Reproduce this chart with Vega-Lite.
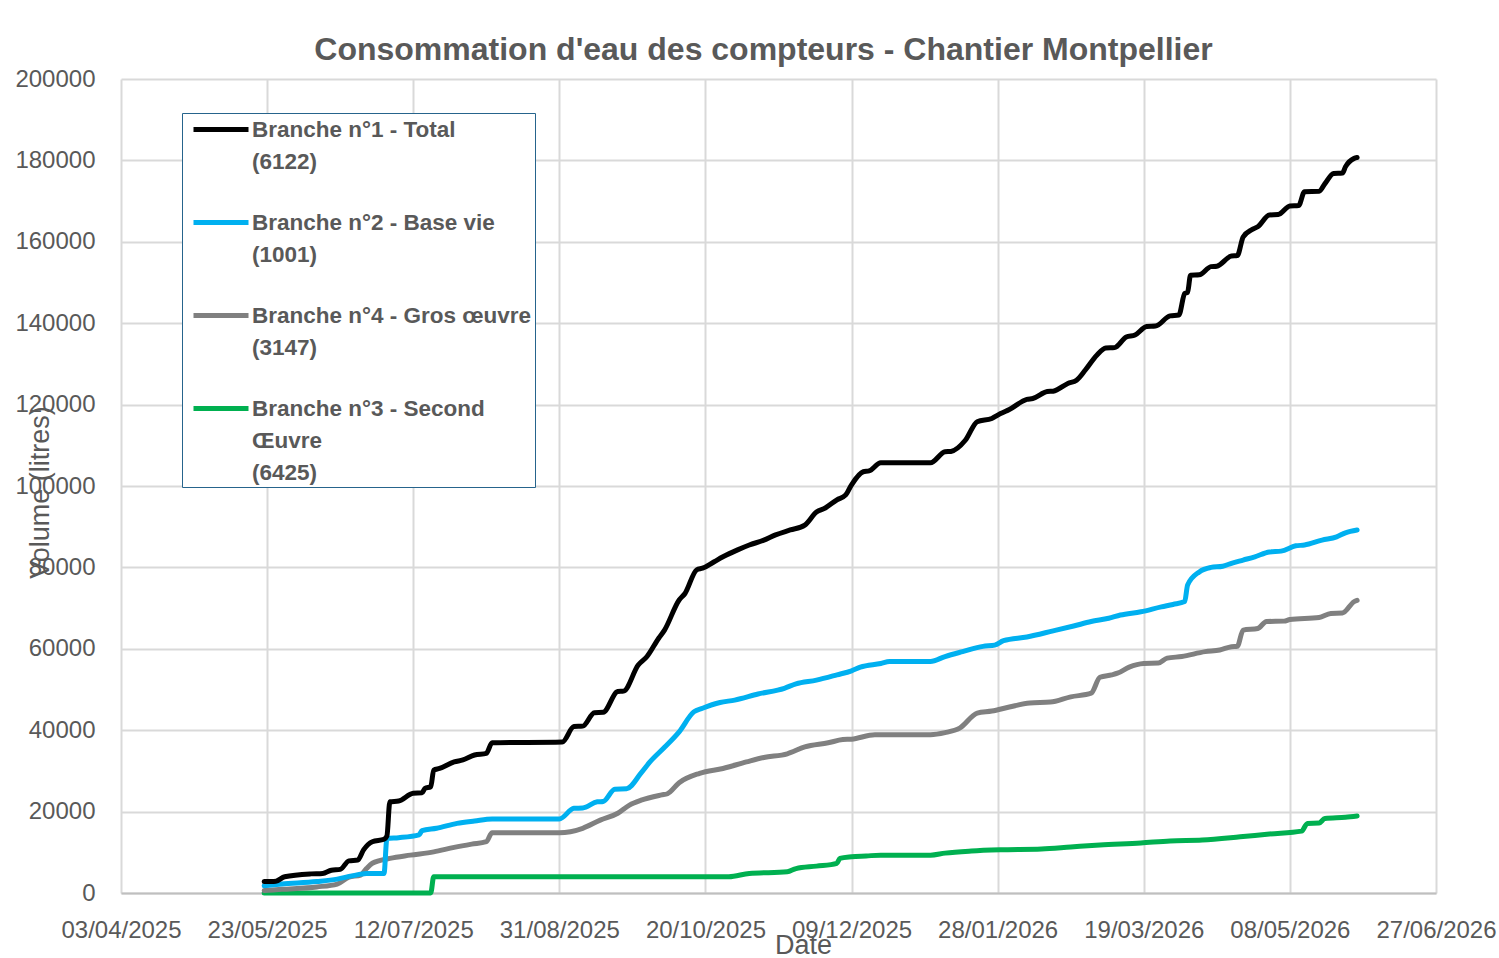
{
  "$schema": "https://vega.github.io/schema/vega-lite/v6.json",
  "width": 1315,
  "height": 814,
  "autosize": {"type": "none"},
  "padding": {"left": 121, "top": 79, "right": 63, "bottom": 65},
  "background": "#ffffff",
  "title": {
    "text": "Consommation d'eau des compteurs - Chantier Montpellier",
    "font": "Liberation Sans",
    "fontSize": 32,
    "fontWeight": "bold",
    "color": "#595959",
    "anchor": "middle",
    "frame": "group",
    "dx": -15,
    "baseline": "alphabetic",
    "offset": -25
  },
  "config": {
    "font": "Liberation Sans",
    "view": {"stroke": null},
    "style": {"guide-label": {"lineHeight": 32}}
  },
  "data": {
    "values": [
      {"s":"b3","d":"2025-05-22","v":0},
      {"s":"b3","d":"2025-07-18","v":0},
      {"s":"b3","d":"2025-07-19","v":4000},
      {"s":"b3","d":"2025-10-28","v":4000},
      {"s":"b3","d":"2025-11-04","v":4800},
      {"s":"b3","d":"2025-11-17","v":5200},
      {"s":"b3","d":"2025-11-20","v":6000},
      {"s":"b3","d":"2025-11-27","v":6600},
      {"s":"b3","d":"2025-12-04","v":7300},
      {"s":"b3","d":"2025-12-05","v":8500},
      {"s":"b3","d":"2025-12-09","v":8900},
      {"s":"b3","d":"2025-12-14","v":9100},
      {"s":"b3","d":"2025-12-19","v":9300},
      {"s":"b3","d":"2026-01-05","v":9300},
      {"s":"b3","d":"2026-01-10","v":9800},
      {"s":"b3","d":"2026-01-19","v":10300},
      {"s":"b3","d":"2026-01-29","v":10600},
      {"s":"b3","d":"2026-02-12","v":10800},
      {"s":"b3","d":"2026-02-22","v":11300},
      {"s":"b3","d":"2026-03-04","v":11800},
      {"s":"b3","d":"2026-03-18","v":12300},
      {"s":"b3","d":"2026-03-28","v":12800},
      {"s":"b3","d":"2026-04-08","v":13000},
      {"s":"b3","d":"2026-04-21","v":13800},
      {"s":"b3","d":"2026-05-01","v":14500},
      {"s":"b3","d":"2026-05-12","v":15200},
      {"s":"b3","d":"2026-05-14","v":17100},
      {"s":"b3","d":"2026-05-18","v":17200},
      {"s":"b3","d":"2026-05-20","v":18300},
      {"s":"b3","d":"2026-05-27","v":18600},
      {"s":"b3","d":"2026-05-31","v":18900},

      {"s":"b4","d":"2025-05-22","v":600},
      {"s":"b4","d":"2025-05-28","v":900},
      {"s":"b4","d":"2025-06-09","v":1500},
      {"s":"b4","d":"2025-06-16","v":2200},
      {"s":"b4","d":"2025-06-20","v":3900},
      {"s":"b4","d":"2025-06-24","v":4400},
      {"s":"b4","d":"2025-06-26","v":6000},
      {"s":"b4","d":"2025-06-28","v":7300},
      {"s":"b4","d":"2025-07-04","v":8500},
      {"s":"b4","d":"2025-07-11","v":9300},
      {"s":"b4","d":"2025-07-19","v":10100},
      {"s":"b4","d":"2025-07-26","v":11200},
      {"s":"b4","d":"2025-08-01","v":12000},
      {"s":"b4","d":"2025-08-06","v":12600},
      {"s":"b4","d":"2025-08-08","v":14800},
      {"s":"b4","d":"2025-08-31","v":14800},
      {"s":"b4","d":"2025-09-08","v":15900},
      {"s":"b4","d":"2025-09-14","v":17900},
      {"s":"b4","d":"2025-09-20","v":19600},
      {"s":"b4","d":"2025-09-24","v":21600},
      {"s":"b4","d":"2025-09-28","v":22800},
      {"s":"b4","d":"2025-10-05","v":24100},
      {"s":"b4","d":"2025-10-07","v":24400},
      {"s":"b4","d":"2025-10-11","v":27100},
      {"s":"b4","d":"2025-10-18","v":29400},
      {"s":"b4","d":"2025-10-26","v":30600},
      {"s":"b4","d":"2025-11-03","v":32200},
      {"s":"b4","d":"2025-11-09","v":33300},
      {"s":"b4","d":"2025-11-17","v":34200},
      {"s":"b4","d":"2025-11-23","v":35900},
      {"s":"b4","d":"2025-12-01","v":36900},
      {"s":"b4","d":"2025-12-06","v":37700},
      {"s":"b4","d":"2025-12-09","v":37800},
      {"s":"b4","d":"2025-12-17","v":38900},
      {"s":"b4","d":"2026-01-05","v":38900},
      {"s":"b4","d":"2026-01-10","v":39400},
      {"s":"b4","d":"2026-01-15","v":40500},
      {"s":"b4","d":"2026-01-21","v":44200},
      {"s":"b4","d":"2026-01-26","v":44700},
      {"s":"b4","d":"2026-02-01","v":45700},
      {"s":"b4","d":"2026-02-08","v":46700},
      {"s":"b4","d":"2026-02-15","v":46900},
      {"s":"b4","d":"2026-02-22","v":48200},
      {"s":"b4","d":"2026-03-01","v":49100},
      {"s":"b4","d":"2026-03-04","v":53000},
      {"s":"b4","d":"2026-03-08","v":53600},
      {"s":"b4","d":"2026-03-10","v":54000},
      {"s":"b4","d":"2026-03-14","v":55500},
      {"s":"b4","d":"2026-03-19","v":56400},
      {"s":"b4","d":"2026-03-24","v":56500},
      {"s":"b4","d":"2026-03-27","v":57700},
      {"s":"b4","d":"2026-04-01","v":58100},
      {"s":"b4","d":"2026-04-09","v":59300},
      {"s":"b4","d":"2026-04-14","v":59700},
      {"s":"b4","d":"2026-04-18","v":60500},
      {"s":"b4","d":"2026-04-20","v":60600},
      {"s":"b4","d":"2026-04-22","v":64600},
      {"s":"b4","d":"2026-04-27","v":65000},
      {"s":"b4","d":"2026-04-30","v":66700},
      {"s":"b4","d":"2026-05-06","v":66800},
      {"s":"b4","d":"2026-05-08","v":67200},
      {"s":"b4","d":"2026-05-18","v":67700},
      {"s":"b4","d":"2026-05-22","v":68700},
      {"s":"b4","d":"2026-05-26","v":68800},
      {"s":"b4","d":"2026-05-30","v":71600},
      {"s":"b4","d":"2026-05-31","v":71900},

      {"s":"b2","d":"2025-05-22","v":1800},
      {"s":"b2","d":"2025-05-28","v":2200},
      {"s":"b2","d":"2025-06-09","v":2800},
      {"s":"b2","d":"2025-06-16","v":3400},
      {"s":"b2","d":"2025-06-21","v":4200},
      {"s":"b2","d":"2025-06-26","v":4800},
      {"s":"b2","d":"2025-07-02","v":4800},
      {"s":"b2","d":"2025-07-03","v":13400},
      {"s":"b2","d":"2025-07-07","v":13600},
      {"s":"b2","d":"2025-07-14","v":14300},
      {"s":"b2","d":"2025-07-15","v":15300},
      {"s":"b2","d":"2025-07-20","v":15900},
      {"s":"b2","d":"2025-07-27","v":17100},
      {"s":"b2","d":"2025-08-02","v":17700},
      {"s":"b2","d":"2025-08-08","v":18200},
      {"s":"b2","d":"2025-08-31","v":18200},
      {"s":"b2","d":"2025-09-05","v":20800},
      {"s":"b2","d":"2025-09-08","v":20900},
      {"s":"b2","d":"2025-09-13","v":22400},
      {"s":"b2","d":"2025-09-15","v":22500},
      {"s":"b2","d":"2025-09-19","v":25500},
      {"s":"b2","d":"2025-09-23","v":25600},
      {"s":"b2","d":"2025-09-28","v":29500},
      {"s":"b2","d":"2025-10-01","v":32200},
      {"s":"b2","d":"2025-10-06","v":35800},
      {"s":"b2","d":"2025-10-11","v":39600},
      {"s":"b2","d":"2025-10-16","v":44500},
      {"s":"b2","d":"2025-10-19","v":45400},
      {"s":"b2","d":"2025-10-25","v":46800},
      {"s":"b2","d":"2025-10-30","v":47400},
      {"s":"b2","d":"2025-11-07","v":48900},
      {"s":"b2","d":"2025-11-16","v":50300},
      {"s":"b2","d":"2025-11-20","v":51400},
      {"s":"b2","d":"2025-11-27","v":52300},
      {"s":"b2","d":"2025-12-04","v":53600},
      {"s":"b2","d":"2025-12-09","v":54600},
      {"s":"b2","d":"2025-12-12","v":55500},
      {"s":"b2","d":"2025-12-19","v":56400},
      {"s":"b2","d":"2025-12-22","v":56900},
      {"s":"b2","d":"2026-01-05","v":56900},
      {"s":"b2","d":"2026-01-10","v":58100},
      {"s":"b2","d":"2026-01-16","v":59300},
      {"s":"b2","d":"2026-01-23","v":60600},
      {"s":"b2","d":"2026-01-27","v":60900},
      {"s":"b2","d":"2026-01-30","v":62000},
      {"s":"b2","d":"2026-02-07","v":62900},
      {"s":"b2","d":"2026-02-16","v":64400},
      {"s":"b2","d":"2026-02-23","v":65600},
      {"s":"b2","d":"2026-03-01","v":66700},
      {"s":"b2","d":"2026-03-07","v":67500},
      {"s":"b2","d":"2026-03-11","v":68300},
      {"s":"b2","d":"2026-03-18","v":69100},
      {"s":"b2","d":"2026-03-25","v":70300},
      {"s":"b2","d":"2026-03-29","v":70900},
      {"s":"b2","d":"2026-04-02","v":71600},
      {"s":"b2","d":"2026-04-03","v":75700},
      {"s":"b2","d":"2026-04-07","v":78900},
      {"s":"b2","d":"2026-04-11","v":80000},
      {"s":"b2","d":"2026-04-15","v":80300},
      {"s":"b2","d":"2026-04-18","v":81000},
      {"s":"b2","d":"2026-04-22","v":81800},
      {"s":"b2","d":"2026-04-26","v":82600},
      {"s":"b2","d":"2026-05-01","v":83800},
      {"s":"b2","d":"2026-05-05","v":84000},
      {"s":"b2","d":"2026-05-10","v":85300},
      {"s":"b2","d":"2026-05-13","v":85500},
      {"s":"b2","d":"2026-05-19","v":86700},
      {"s":"b2","d":"2026-05-24","v":87500},
      {"s":"b2","d":"2026-05-27","v":88500},
      {"s":"b2","d":"2026-05-31","v":89200},

      {"s":"b1","d":"2025-05-22","v":2800},
      {"s":"b1","d":"2025-05-26","v":2900},
      {"s":"b1","d":"2025-05-29","v":4000},
      {"s":"b1","d":"2025-06-07","v":4700},
      {"s":"b1","d":"2025-06-11","v":4800},
      {"s":"b1","d":"2025-06-14","v":5600},
      {"s":"b1","d":"2025-06-17","v":5800},
      {"s":"b1","d":"2025-06-20","v":7900},
      {"s":"b1","d":"2025-06-23","v":8100},
      {"s":"b1","d":"2025-06-25","v":10600},
      {"s":"b1","d":"2025-06-28","v":12600},
      {"s":"b1","d":"2025-07-02","v":13200},
      {"s":"b1","d":"2025-07-03","v":14000},
      {"s":"b1","d":"2025-07-04","v":22400},
      {"s":"b1","d":"2025-07-07","v":22600},
      {"s":"b1","d":"2025-07-12","v":24500},
      {"s":"b1","d":"2025-07-15","v":24600},
      {"s":"b1","d":"2025-07-16","v":25700},
      {"s":"b1","d":"2025-07-18","v":26100},
      {"s":"b1","d":"2025-07-19","v":30200},
      {"s":"b1","d":"2025-07-21","v":30600},
      {"s":"b1","d":"2025-07-26","v":32200},
      {"s":"b1","d":"2025-07-29","v":32700},
      {"s":"b1","d":"2025-08-02","v":33900},
      {"s":"b1","d":"2025-08-06","v":34300},
      {"s":"b1","d":"2025-08-08","v":36900},
      {"s":"b1","d":"2025-09-01","v":37100},
      {"s":"b1","d":"2025-09-05","v":40900},
      {"s":"b1","d":"2025-09-08","v":41000},
      {"s":"b1","d":"2025-09-12","v":44300},
      {"s":"b1","d":"2025-09-15","v":44400},
      {"s":"b1","d":"2025-09-20","v":49500},
      {"s":"b1","d":"2025-09-22","v":49600},
      {"s":"b1","d":"2025-09-27","v":56000},
      {"s":"b1","d":"2025-09-30","v":58100},
      {"s":"b1","d":"2025-10-04","v":62600},
      {"s":"b1","d":"2025-10-06","v":64600},
      {"s":"b1","d":"2025-10-11","v":72000},
      {"s":"b1","d":"2025-10-13","v":73600},
      {"s":"b1","d":"2025-10-17","v":79400},
      {"s":"b1","d":"2025-10-19","v":79800},
      {"s":"b1","d":"2025-10-23","v":81400},
      {"s":"b1","d":"2025-10-26","v":82600},
      {"s":"b1","d":"2025-10-31","v":84300},
      {"s":"b1","d":"2025-11-04","v":85500},
      {"s":"b1","d":"2025-11-09","v":86700},
      {"s":"b1","d":"2025-11-13","v":88000},
      {"s":"b1","d":"2025-11-18","v":89200},
      {"s":"b1","d":"2025-11-23","v":90400},
      {"s":"b1","d":"2025-11-27","v":93600},
      {"s":"b1","d":"2025-11-30","v":94600},
      {"s":"b1","d":"2025-12-04","v":96600},
      {"s":"b1","d":"2025-12-07","v":97800},
      {"s":"b1","d":"2025-12-09","v":100300},
      {"s":"b1","d":"2025-12-13","v":103500},
      {"s":"b1","d":"2025-12-15","v":103700},
      {"s":"b1","d":"2025-12-19","v":105700},
      {"s":"b1","d":"2026-01-05","v":105700},
      {"s":"b1","d":"2026-01-10","v":108400},
      {"s":"b1","d":"2026-01-12","v":108500},
      {"s":"b1","d":"2026-01-17","v":111300},
      {"s":"b1","d":"2026-01-21","v":115800},
      {"s":"b1","d":"2026-01-26","v":116600},
      {"s":"b1","d":"2026-01-29","v":117800},
      {"s":"b1","d":"2026-02-01","v":118800},
      {"s":"b1","d":"2026-02-07","v":121300},
      {"s":"b1","d":"2026-02-09","v":121500},
      {"s":"b1","d":"2026-02-14","v":123200},
      {"s":"b1","d":"2026-02-16","v":123300},
      {"s":"b1","d":"2026-02-21","v":125200},
      {"s":"b1","d":"2026-02-24","v":126000},
      {"s":"b1","d":"2026-02-27","v":128500},
      {"s":"b1","d":"2026-03-03","v":132200},
      {"s":"b1","d":"2026-03-06","v":133900},
      {"s":"b1","d":"2026-03-09","v":134000},
      {"s":"b1","d":"2026-03-13","v":136600},
      {"s":"b1","d":"2026-03-16","v":137100},
      {"s":"b1","d":"2026-03-20","v":139200},
      {"s":"b1","d":"2026-03-23","v":139300},
      {"s":"b1","d":"2026-03-28","v":141800},
      {"s":"b1","d":"2026-03-31","v":142000},
      {"s":"b1","d":"2026-04-02","v":147300},
      {"s":"b1","d":"2026-04-03","v":147600},
      {"s":"b1","d":"2026-04-04","v":151800},
      {"s":"b1","d":"2026-04-07","v":151900},
      {"s":"b1","d":"2026-04-11","v":153900},
      {"s":"b1","d":"2026-04-13","v":154000},
      {"s":"b1","d":"2026-04-18","v":156500},
      {"s":"b1","d":"2026-04-20","v":156600},
      {"s":"b1","d":"2026-04-22","v":161200},
      {"s":"b1","d":"2026-04-25","v":163000},
      {"s":"b1","d":"2026-04-27","v":163700},
      {"s":"b1","d":"2026-05-01","v":166600},
      {"s":"b1","d":"2026-05-04","v":166700},
      {"s":"b1","d":"2026-05-08","v":168800},
      {"s":"b1","d":"2026-05-11","v":168900},
      {"s":"b1","d":"2026-05-13","v":172300},
      {"s":"b1","d":"2026-05-18","v":172400},
      {"s":"b1","d":"2026-05-20","v":174300},
      {"s":"b1","d":"2026-05-23","v":176800},
      {"s":"b1","d":"2026-05-26","v":176900},
      {"s":"b1","d":"2026-05-27","v":178400},
      {"s":"b1","d":"2026-05-30","v":180500},
      {"s":"b1","d":"2026-05-31","v":180700}
    ]
  },
  "mark": {"type": "line", "strokeWidth": 5, "interpolate": "monotone", "strokeCap": "round", "strokeJoin": "round"},
  "encoding": {
    "x": {
      "field": "d",
      "type": "temporal",
      "scale": {
        "type": "utc",
        "nice": false,
        "domain": [
          {"year": 2025, "month": 4, "date": 3, "utc": true},
          {"year": 2026, "month": 6, "date": 27, "utc": true}
        ]
      },
      "axis": {
        "title": "Date",
        "values": [
          {"year": 2025, "month": 4, "date": 3, "utc": true},
          {"year": 2025, "month": 5, "date": 23, "utc": true},
          {"year": 2025, "month": 7, "date": 12, "utc": true},
          {"year": 2025, "month": 8, "date": 31, "utc": true},
          {"year": 2025, "month": 10, "date": 20, "utc": true},
          {"year": 2025, "month": 12, "date": 9, "utc": true},
          {"year": 2026, "month": 1, "date": 28, "utc": true},
          {"year": 2026, "month": 3, "date": 19, "utc": true},
          {"year": 2026, "month": 5, "date": 8, "utc": true},
          {"year": 2026, "month": 6, "date": 27, "utc": true}
        ],
        "format": "%d/%m/%Y",
        "grid": true,
        "gridColor": "#d9d9d9",
        "gridWidth": 2,
        "domainColor": "#bfbfbf",
        "domainWidth": 2,
        "ticks": false,
        "tickSize": 0,
        "labelFont": "Liberation Sans",
        "labelFontSize": 24,
        "labelColor": "#595959",
        "labelPadding": 25,
        "labelFlush": false,
        "labelOverlap": false,
        "labelBound": false,
        "titleFont": "Liberation Sans",
        "titleFontSize": 27,
        "titleFontWeight": "normal",
        "titleColor": "#595959",
        "titleX": 682,
        "titleY": 52,
        "titleBaseline": "middle",
        "titleAlign": "center"
      }
    },
    "y": {
      "field": "v",
      "type": "quantitative",
      "scale": {"domain": [0, 200000], "nice": false},
      "axis": {
        "title": "Volume (litres)",
        "values": [0, 20000, 40000, 60000, 80000, 100000, 120000, 140000, 160000, 180000, 200000],
        "format": "d",
        "grid": true,
        "gridColor": "#d9d9d9",
        "gridWidth": 2,
        "domain": false,
        "ticks": false,
        "tickSize": 0,
        "labelFont": "Liberation Sans",
        "labelFontSize": 24,
        "labelColor": "#595959",
        "labelPadding": 26,
        "labelOverlap": false,
        "labelFlush": false,
        "titleFont": "Liberation Sans",
        "titleFontSize": 27,
        "titleFontWeight": "normal",
        "titleColor": "#595959",
        "titleAngle": -90,
        "titleX": -81,
        "titleY": 413,
        "titleBaseline": "middle",
        "titleAlign": "center"
      }
    },
    "color": {
      "field": "s",
      "type": "nominal",
      "scale": {
        "domain": ["b1", "b2", "b4", "b3"],
        "range": ["#000000", "#00b0f0", "#808080", "#00b050"]
      },
      "legend": {
        "orient": "none",
        "legendX": 61,
        "legendY": 34,
        "title": null,
        "symbolType": "M-2.5,0H2.5",
        "symbolSize": 484,
        "symbolStrokeWidth": 5,
        "symbolOffset": 22.5,
        "labelFont": "Liberation Sans",
        "labelFontSize": 22.5,
        "labelFontWeight": "bold",
        "labelColor": "#595959",
        "labelLimit": 600,
        "labelOffset": 17.5,
        "labelBaseline": "middle",
        "labelExpr": "datum.label == 'b1' ? ['Branche n°1 - Total', '(6122)'] : datum.label == 'b2' ? ['Branche n°2 - Base vie', '(1001)'] : datum.label == 'b4' ? ['Branche n°4 - Gros œuvre', '(3147)'] : ['Branche n°3 - Second', 'Œuvre', '(6425)']",
        "padding": 3,
        "rowPadding": 36,
        "strokeColor": "#26648c",
        "fillColor": "#ffffff"
      }
    }
  }
}
